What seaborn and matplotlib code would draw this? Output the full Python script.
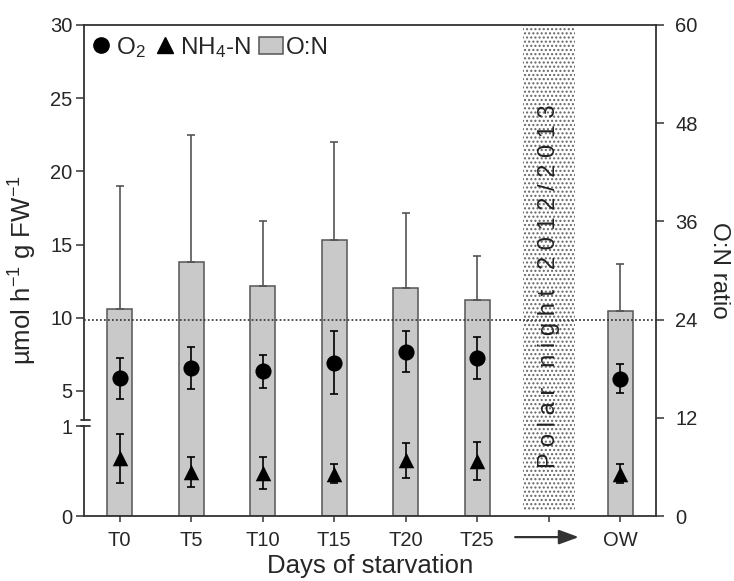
import numpy as np
import pandas as pd
import seaborn as sns
import matplotlib.pyplot as plt
from matplotlib.lines import Line2D
from matplotlib.patches import Patch

# Categorías del eje x (la posición vacía es la noche polar)
x_order = ['T0', 'T5', 'T10', 'T15', 'T20', 'T25', '', 'OW']
days = ['T0', 'T5', 'T10', 'T15', 'T20', 'T25', 'OW']

# O2 y NH4-N (µmol h-1 g FW-1): media y desviación
o2_mean = [5.86, 6.56, 6.33, 6.93, 7.68, 7.24, 5.84]
o2_sd = [1.40, 1.42, 1.14, 2.15, 1.40, 1.45, 0.99]
nh4_mean = [0.64, 0.49, 0.48, 0.47, 0.62, 0.61, 0.47]
nh4_sd = [0.27, 0.165, 0.18, 0.105, 0.195, 0.213, 0.105]

# Relación O:N (eje derecho)
on_ratio = [25.3, 31.05, 28.1, 33.7, 27.9, 26.4, 25.06]
on_sd = [15.0, 15.45, 8.0, 12.0, 9.1, 5.4, 5.7]

left_ticks = [0, 1, 5, 10, 15, 20, 25, 30]
right_ticks = [0, 12, 24, 36, 48, 60]
polar_label = 'P o l a r   n i g h t   2 0 1 2 / 2 0 1 3'


# Eje izquierdo partido: 0-1 abajo, 3-30 arriba
def fwd(v):
    v = np.asarray(v, dtype=float)
    return np.where(v <= 1, v * 90.0,
                    np.where(v <= 3.02, 90.0 + (v - 1) * 3.12,
                             96.3 + (v - 3.02) * 14.65))


def inv(u):
    u = np.asarray(u, dtype=float)
    return np.where(u <= 90, u / 90.0,
                    np.where(u <= 96.3, 1 + (u - 90) / 3.12,
                             3.02 + (u - 96.3) / 14.65))


sns.set_style('ticks')
plt.rcParams['font.family'] = ['Liberation Sans', 'DejaVu Sans']
plt.rcParams['mathtext.fontset'] = 'custom'
plt.rcParams['mathtext.rm'] = 'Liberation Sans'
plt.rcParams['mathtext.it'] = 'Liberation Sans:italic'
plt.rcParams['mathtext.default'] = 'regular'

dark = '#333333'
bar_fill = '#c9c9c9'
bar_edge = '#555555'

fig = plt.figure(figsize=(7.34, 5.81), dpi=100)
ax1 = fig.add_axes([84 / 734, 1 - 516 / 581, 572 / 734, 491 / 581])
ax2 = ax1.twinx()

xpos = [x_order.index(d) for d in days]
polar_pos = x_order.index('')

# Barras O:N en el eje derecho
df = pd.DataFrame({'day': days, 'on': on_ratio})
ax2.axvspan(polar_pos - 0.363, polar_pos + 0.363, ymin=0.011, ymax=1,
            facecolor='white', edgecolor='#666666', hatch='....', lw=0, zorder=0)
sns.barplot(data=df, x='day', y='on', order=x_order, color=bar_fill,
            edgecolor=bar_edge, linewidth=1.1, width=0.354, saturation=1,
            errorbar=None, ax=ax2)
ax2.errorbar(xpos, on_ratio, yerr=[np.zeros(len(on_sd)), on_sd], fmt='none',
             ecolor=bar_edge, elinewidth=1.2, capsize=2.6, capthick=1.2)
ax2.axhline(24, color=dark, ls=(0, (1, 1.3)), lw=1.25, zorder=3)
ax2.set_ylim(0, 60)
ax2.set_yticks(right_ticks)
ax2.set_xlabel('')
ax2.set_ylabel('O:N ratio', rotation=270, va='bottom', fontsize=17.5, labelpad=7.5)

# Puntos O2 y NH4-N en el eje izquierdo
ax1.set_zorder(ax2.get_zorder() + 1)
ax1.patch.set_visible(False)
ax1.set_yscale('function', functions=(fwd, inv))
ax1.errorbar(xpos, o2_mean, yerr=o2_sd, fmt='none', ecolor='black',
             elinewidth=1.2, capsize=3, capthick=1.2)
ax1.errorbar(xpos, nh4_mean, yerr=nh4_sd, fmt='none', ecolor='black',
             elinewidth=1.2, capsize=3, capthick=1.2)
sns.scatterplot(x=xpos, y=o2_mean, marker='o', s=135, color='black',
                linewidth=0, ax=ax1, zorder=4)
sns.scatterplot(x=xpos, y=nh4_mean, marker='^', s=125, color='black',
                linewidth=0, ax=ax1, zorder=4)
ax1.set_ylim(0, 30)
ax1.set_yticks(left_ticks)
ax1.set_yticklabels([str(t) for t in left_ticks])
ax1.set_xlim(-0.5, len(x_order) - 0.5)
ax1.set_xticks(range(len(x_order)))
ax1.set_xticklabels(x_order)

ax1.text(polar_pos, 0.469, polar_label, rotation=90, ha='center', va='center',
         transform=ax1.get_xaxis_transform(), fontsize=17, color='#222222')

# Flecha hacia OW
ax1.annotate('', xy=(polar_pos + 0.42, -0.043), xytext=(polar_pos - 0.47, -0.043),
             xycoords=ax1.get_xaxis_transform(), annotation_clip=False,
             arrowprops=dict(arrowstyle='-|>,head_length=0.6,head_width=0.22',
                             mutation_scale=20, color=dark, lw=1.6,
                             shrinkA=0, shrinkB=0))

# Ejes y corte del eje izquierdo
for s in ['left', 'top', 'bottom']:
    ax1.spines[s].set_color(dark)
    ax1.spines[s].set_linewidth(1.3)
ax1.spines['right'].set_visible(False)
for s in ['left', 'top', 'bottom']:
    ax2.spines[s].set_visible(False)
ax2.spines['right'].set_color(dark)
ax2.spines['right'].set_linewidth(1.3)
ax1.spines['left'].set_bounds(3.02, 30)
yt = ax1.get_yaxis_transform()
ax1.plot([0, 0], [0, 1], transform=yt, color=dark, lw=1.3, clip_on=False)
for b in [1, 3.02]:
    ax1.plot([-0.006, 0.011], [b, b], transform=yt, color=dark, lw=1.3,
             clip_on=False)

ax1.tick_params(axis='y', length=6, width=1.1, color=dark, labelsize=14.5, pad=2.4)
ax1.tick_params(axis='x', length=4.5, width=1.1, color=dark, labelsize=14.5, pad=6)
ax2.tick_params(axis='y', length=6, width=1.1, color=dark, labelsize=14.5, pad=8)

ax1.set_xlabel('Days of starvation', fontsize=18.5, labelpad=3)
ax1.set_ylabel('µmol h$^{-1}$ g FW$^{-1}$', fontsize=18.5, labelpad=8)

handles = [Line2D([], [], marker='o', ls='none', color='black', ms=11),
           Line2D([], [], marker='^', ls='none', color='black', ms=11),
           Patch(facecolor=bar_fill, edgecolor=bar_edge, linewidth=1.1)]
ax1.legend(handles, ['O$_2$', 'NH$_4$-N', 'O:N'], loc='upper left', ncol=3,
           frameon=False, fontsize=17.5, handlelength=1.0, handletextpad=0.12,
           columnspacing=0.3, borderaxespad=0, borderpad=0.2,
           bbox_to_anchor=(0.0, 0.99))

fig.savefig('out.png', dpi=100)
